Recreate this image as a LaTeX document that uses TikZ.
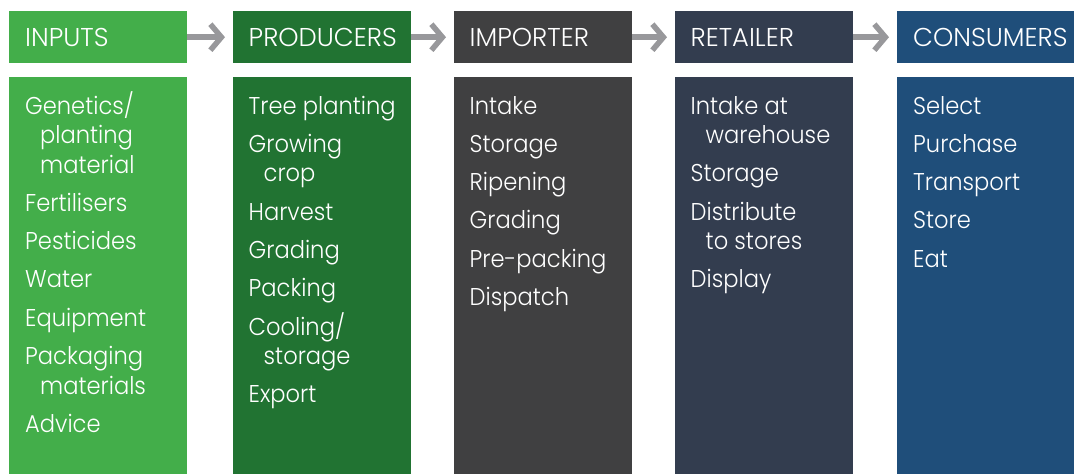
\documentclass[tikz,border=0pt]{standalone}
\usepackage{fontspec}
\setmainfont{Poppins Light}
\newfontfamily\bodyfont{Poppins Light}[FakeStretch=0.93]
\usetikzlibrary{arrows.meta}
\definecolor{cinputs}{HTML}{43AE4A}
\definecolor{cprod}{HTML}{217332}
\definecolor{cimp}{HTML}{404041}
\definecolor{cret}{HTML}{333D4F}
\definecolor{ccons}{HTML}{1F4E7A}
\definecolor{carrow}{HTML}{98989B}
\tikzset{
  hdr/.style={fill=#1, draw=none, minimum width=178pt, minimum height=52pt, anchor=north west, inner sep=0pt},
  bodybox/.style={fill=#1, draw=none, minimum width=178pt, minimum height=397pt, anchor=north west, inner sep=0pt},
  hdrtext/.style={text=white, anchor=base west, inner sep=0pt, font=\fontsize{25.8}{26}\selectfont},
  bodytext/.style={text=white, anchor=base west, inner sep=0pt, font=\bodyfont\fontsize{24.3}{24}\selectfont},
  flow/.style={draw=carrow, line width=5.5pt, -{Straight Barb[length=11pt,width=26pt]}, shorten >=8pt},
}
\newcommand\bline[4]{\node[bodytext] (#1) at (#2,#3) {#4};}
\begin{document}
\begin{tikzpicture}[x=1pt,y=-1pt]
\useasboundingbox (0,0) rectangle (1074,474);
% headers
\node[hdr=cinputs] (h1) at (9,11) {};
\node[hdr=cprod] (h2) at (233,11) {};
\node[hdr=cimp] (h3) at (454,11) {};
\node[hdr=cret] (h4) at (675,11) {};
\node[hdr=ccons] (h5) at (897,11) {};
% bodies
\node[bodybox=cinputs] (b1) at (9,77) {};
\node[bodybox=cprod] (b2) at (233,77) {};
\node[bodybox=cimp] (b3) at (454,77) {};
\node[bodybox=cret] (b4) at (675,77) {};
\node[bodybox=ccons] (b5) at (897,77) {};
% arrows
\draw[flow] (h1.east) -- (h2.west);
\draw[flow] (h2.east) -- (h3.west);
\draw[flow] (h3.east) -- (h4.west);
\draw[flow] (h4.east) -- (h5.west);
% header texts
\node[hdrtext] (t1) at (25,46) {INPUTS};
\node[hdrtext] (t2) at (248.5,46) {PRODUCERS};
\node[hdrtext] (t3) at (469.5,46) {IMPORTER};
\node[hdrtext] (t4) at (690.5,46) {RETAILER};
\node[hdrtext] (t5) at (913,46) {CONSUMERS};
% INPUTS
\bline{a1}{25}{114}{Genetics/}
\bline{a2}{40}{143.5}{planting}
\bline{a3}{40}{173}{material}
\bline{a4}{25}{211.3}{Fertilisers}
\bline{a5}{25}{249.6}{Pesticides}
\bline{a6}{25}{287.9}{Water}
\bline{a7}{25}{326.2}{Equipment}
\bline{a8}{25}{364.5}{Packaging}
\bline{a9}{40}{394}{materials}
\bline{a10}{25}{432.3}{Advice}
% PRODUCERS
\bline{p1}{248.5}{114}{Tree planting}
\bline{p2}{248.5}{152.3}{Growing}
\bline{p3}{263.5}{181.8}{crop}
\bline{p4}{248.5}{220.1}{Harvest}
\bline{p5}{248.5}{258.4}{Grading}
\bline{p6}{248.5}{296.7}{Packing}
\bline{p7}{248.5}{335}{Cooling/}
\bline{p8}{263.5}{364.5}{storage}
\bline{p9}{248.5}{402.8}{Export}
% IMPORTER
\bline{i1}{469.5}{114}{Intake}
\bline{i2}{469.5}{152.3}{Storage}
\bline{i3}{469.5}{190.6}{Ripening}
\bline{i4}{469.5}{228.9}{Grading}
\bline{i5}{469.5}{267.2}{Pre-packing}
\bline{i6}{469.5}{305.5}{Dispatch}
% RETAILER
\bline{r1}{690.5}{114}{Intake at}
\bline{r2}{705.5}{143.5}{warehouse}
\bline{r3}{690.5}{181.8}{Storage}
\bline{r4}{690.5}{220.1}{Distribute}
\bline{r5}{705.5}{249.6}{to stores}
\bline{r6}{690.5}{287.9}{Display}
% CONSUMERS
\bline{c1}{913}{114}{Select}
\bline{c2}{913}{152.3}{Purchase}
\bline{c3}{913}{190.6}{Transport}
\bline{c4}{913}{228.9}{Store}
\bline{c5}{913}{267.2}{Eat}
\end{tikzpicture}
\end{document}
